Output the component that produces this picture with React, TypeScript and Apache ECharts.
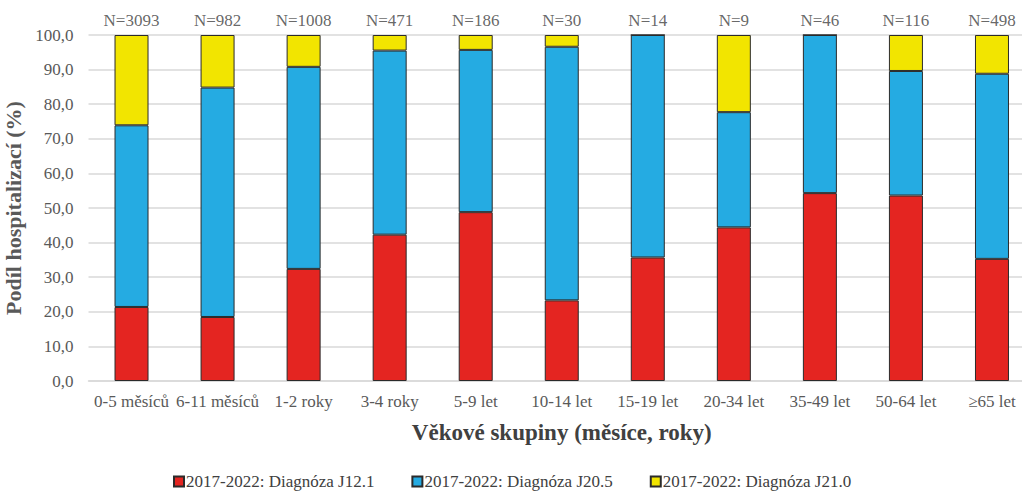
import React, { useEffect, useRef } from "react";
import * as echarts from "echarts";

const categories = [
  "0-5 měsíců",
  "6-11 měsíců",
  "1-2 roky",
  "3-4 roky",
  "5-9 let",
  "10-14 let",
  "15-19 let",
  "20-34 let",
  "35-49 let",
  "50-64 let",
  "≥65 let",
];
const counts = [3093, 982, 1008, 471, 186, 30, 14, 9, 46, 116, 498];
const j121 = [21.4, 18.5, 32.4, 42.3, 48.8, 23.3, 35.7, 44.4, 54.3, 53.6, 35.3];
const j205 = [52.5, 66.3, 58.4, 53.2, 46.9, 73.3, 64.3, 33.3, 45.7, 36.0, 53.5];
const j210 = [26.1, 15.2, 9.2, 4.5, 4.3, 3.4, 0, 22.3, 0, 10.4, 11.2];
const seriesNames = [
  "2017-2022: Diagnóza J12.1",
  "2017-2022: Diagnóza J20.5",
  "2017-2022: Diagnóza J21.0",
];
const yTicks = { min: 0, max: 100, interval: 10 };

const FONT = "Liberation Serif";

export default function App() {
  const ref = useRef<HTMLDivElement>(null);
  useEffect(() => {
    document.body.style.margin = "0";
    const chart = echarts.init(ref.current!, null, { renderer: "svg" });
    const barCommon = {
      type: "bar",
      stack: "total",
      barWidth: 34,
      itemStyle: { borderColor: "#2b2b2b", borderWidth: 1 },
    };
    chart.setOption({
      animation: false,
      textStyle: { fontFamily: FONT },
      grid: {
        left: 88.5,
        width: 946.5,
        top: 35,
        height: 346,
        containLabel: false,
        outerBoundsMode: "none",
      },
      legend: {
        data: seriesNames,
        bottom: 0,
        left: 168,
        itemWidth: 10,
        itemHeight: 10,
        itemGap: 37,
        icon: "rect",
        textStyle: { fontFamily: FONT, fontSize: 17, color: "#404040", padding: [0, 0, 0, -3] },
      },
      xAxis: {
        type: "category",
        data: categories,
        axisTick: { show: false },
        axisLine: { lineStyle: { color: "#d9d9d9", width: 1.5 } },
        axisLabel: {
          interval: 0,
          margin: 12,
          fontFamily: FONT,
          fontSize: 17,
          color: "#595959",
        },
        name: "Věkové skupiny (měsíce, roky)",
        nameLocation: "middle",
        nameGap: 40,
        nameTextStyle: { fontFamily: FONT, fontSize: 23, fontWeight: "bold", color: "#404040" },
      },
      yAxis: {
        type: "value",
        min: yTicks.min,
        max: yTicks.max,
        interval: yTicks.interval,
        axisLine: { show: false },
        axisTick: { show: false },
        splitLine: { lineStyle: { color: "#d9d9d9", width: 1.5 } },
        axisLabel: {
          margin: 15,
          fontFamily: FONT,
          fontSize: 17,
          color: "#595959",
          formatter: (v: number) => v.toFixed(1).replace(".", ","),
        },
        name: "Podíl hospitalizací (%)",
        nameLocation: "middle",
        nameGap: 62,
        nameTextStyle: { fontFamily: FONT, fontSize: 22, fontWeight: "bold", color: "#595959" },
      },
      series: [
        { ...barCommon, name: seriesNames[0], data: j121, itemStyle: { ...barCommon.itemStyle, color: "#E42521" } },
        { ...barCommon, name: seriesNames[1], data: j205, itemStyle: { ...barCommon.itemStyle, color: "#25ABE2" } },
        { ...barCommon, name: seriesNames[2], data: j210, itemStyle: { ...barCommon.itemStyle, color: "#F2E500" } },
        {
          type: "scatter",
          name: "N",
          data: counts.map(() => 100),
          symbolSize: 0,
          silent: true,
          label: {
            show: true,
            position: "top",
            distance: 6,
            fontFamily: FONT,
            fontSize: 17,
            color: "#404040",
            formatter: (p: any) => "N=" + counts[p.dataIndex],
          },
        },
      ],
    });
    return () => chart.dispose();
  }, []);
  return (
    <div
      ref={ref}
      style={{ position: "fixed", left: 0, top: 0, width: 1022, height: 495, background: "#fff" }}
    />
  );
}
